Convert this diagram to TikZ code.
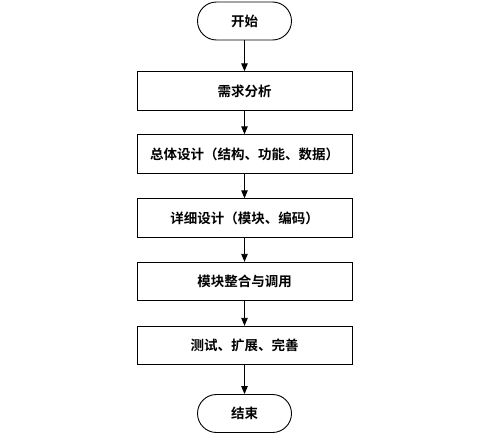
\documentclass[tikz,border=0pt]{standalone}
\usepackage{fontspec}
\setmainfont{Noto Sans CJK SC}[BoldFont={Noto Sans CJK SC Bold}]
\usetikzlibrary{arrows.meta}

\tikzset{every picture/.style={line width=0.9pt}}
\tikzset{
  terminal/.style={draw, rectangle, rounded corners=19pt, minimum width=94pt, minimum height=38pt, inner sep=0.75pt, font=\fontsize{13.5}{15}\selectfont\bfseries},
  stepbox/.style={draw, rectangle, minimum width=215pt, minimum height=38.5pt, inner sep=0.75pt, font=\fontsize{13.5}{15}\selectfont\bfseries},
  flow/.style={-{Triangle[length=8pt,width=6.5pt]}}
}

\begin{document}
\begin{tikzpicture}[x=1pt,y=1pt,yscale=-1,xscale=1]
    \useasboundingbox (0,0) rectangle (500,436);

    % Terminals
    \node [terminal] (start) at (244.5,21) {开始};
    \node [terminal] (stop) at (244.5,413.5) {结束};

    % Process boxes
    \node [stepbox] (need) at (244.5,91) {需求分析};
    \node [stepbox] (overall) at (244.5,154) {总体设计（结构、功能、数据）};
    \node [stepbox] (detail) at (244.5,218) {详细设计（模块、编码）};
    \node [stepbox] (merge) at (244.5,281.5) {模块整合与调用};
    \node [stepbox] (test) at (244.5,345.5) {测试、扩展、完善};

    % Connectors
    \draw [flow] (start) -- (need);
    \draw [flow] (need) -- (overall);
    \draw [flow] (overall) -- (detail);
    \draw [flow] (detail) -- (merge);
    \draw [flow] (merge) -- (test);
    \draw [flow] (test) -- (stop);

\end{tikzpicture}
\end{document}
